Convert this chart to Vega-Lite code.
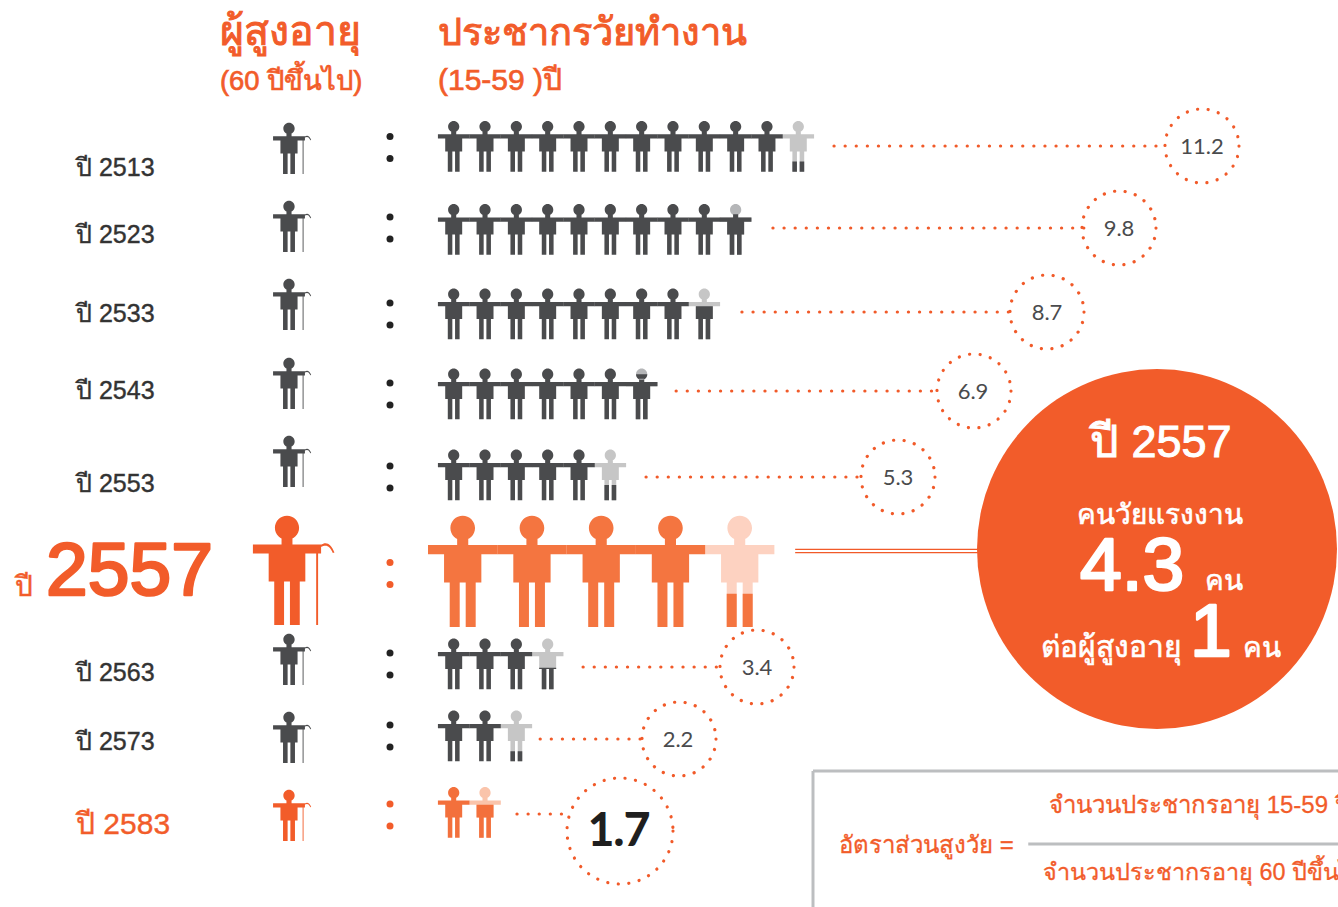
{
"$schema":"https://vega.github.io/schema/vega-lite/v6.json",
"usermeta":{"embedOptions":{"actions":false}},
"width":1338,"height":907,"autosize":"none","padding":0,
"background":"#ffffff",
"config":{"view":{"stroke":null}},
"datasets":{
"workers":[
{"year":2513,"seat":1,"share":1},{"year":2513,"seat":2,"share":1},{"year":2513,"seat":3,"share":1},{"year":2513,"seat":4,"share":1},{"year":2513,"seat":5,"share":1},{"year":2513,"seat":6,"share":1},{"year":2513,"seat":7,"share":1},{"year":2513,"seat":8,"share":1},{"year":2513,"seat":9,"share":1},{"year":2513,"seat":10,"share":1},{"year":2513,"seat":11,"share":1},{"year":2513,"seat":12,"share":0.2},
{"year":2523,"seat":1,"share":1},{"year":2523,"seat":2,"share":1},{"year":2523,"seat":3,"share":1},{"year":2523,"seat":4,"share":1},{"year":2523,"seat":5,"share":1},{"year":2523,"seat":6,"share":1},{"year":2523,"seat":7,"share":1},{"year":2523,"seat":8,"share":1},{"year":2523,"seat":9,"share":1},{"year":2523,"seat":10,"share":0.8},
{"year":2533,"seat":1,"share":1},{"year":2533,"seat":2,"share":1},{"year":2533,"seat":3,"share":1},{"year":2533,"seat":4,"share":1},{"year":2533,"seat":5,"share":1},{"year":2533,"seat":6,"share":1},{"year":2533,"seat":7,"share":1},{"year":2533,"seat":8,"share":1},{"year":2533,"seat":9,"share":0.7},
{"year":2543,"seat":1,"share":1},{"year":2543,"seat":2,"share":1},{"year":2543,"seat":3,"share":1},{"year":2543,"seat":4,"share":1},{"year":2543,"seat":5,"share":1},{"year":2543,"seat":6,"share":1},{"year":2543,"seat":7,"share":0.9},
{"year":2553,"seat":1,"share":1},{"year":2553,"seat":2,"share":1},{"year":2553,"seat":3,"share":1},{"year":2553,"seat":4,"share":1},{"year":2553,"seat":5,"share":1},{"year":2553,"seat":6,"share":0.3},
{"year":2563,"seat":1,"share":1},{"year":2563,"seat":2,"share":1},{"year":2563,"seat":3,"share":1},{"year":2563,"seat":4,"share":0.4},
{"year":2573,"seat":1,"share":1},{"year":2573,"seat":2,"share":1},{"year":2573,"seat":3,"share":0.2},
{"year":2583,"seat":1,"share":1},{"year":2583,"seat":2,"share":0.7}
],
"focus":[{"year":2557,"seat":1,"share":1},{"year":2557,"seat":2,"share":1},{"year":2557,"seat":3,"share":1},{"year":2557,"seat":4,"share":1},{"year":2557,"seat":5,"share":0.3}],
"years":[{"year":2513,"label":"ปี 2513"},{"year":2523,"label":"ปี 2523"},{"year":2533,"label":"ปี 2533"},{"year":2543,"label":"ปี 2543"},{"year":2553,"label":"ปี 2553"},{"year":2557,"label":""},{"year":2563,"label":"ปี 2563"},{"year":2573,"label":"ปี 2573"},{"year":2583,"label":"ปี 2583"}],
"ratios":[{"year":2513,"ratio":11.2},{"year":2523,"ratio":9.8},{"year":2533,"ratio":8.7},{"year":2543,"ratio":6.9},{"year":2553,"ratio":5.3},{"year":2563,"ratio":3.4},{"year":2573,"ratio":2.2},{"year":2583,"ratio":1.7}],
"leaders":[{"year":2513,"from_seat":13.14,"to_seat":23.73},{"year":2523,"from_seat":11.19,"to_seat":21.15},{"year":2533,"from_seat":10.2,"to_seat":18.76},{"year":2543,"from_seat":8.1,"to_seat":16.46},{"year":2553,"from_seat":7.14,"to_seat":14.03},{"year":2563,"from_seat":5.13,"to_seat":9.56},{"year":2573,"from_seat":3.76,"to_seat":7.04},{"year":2583,"from_seat":3.02,"to_seat":4.65}],
"texts":[{"n":1,"text":"ผู้สูงอายุ"},{"n":2,"text":"(60 ปีขึ้นไป)"},{"n":3,"text":"ประชากรวัยทำงาน"},{"n":4,"text":"(15-59 )ปี"},{"n":5,"text":"ปี"},{"n":6,"text":"ปี 2557"},{"n":7,"text":"คนวัยแรงงาน"},{"n":8,"text":"คน"},{"n":9,"text":"ต่อผู้สูงอายุ"},{"n":10,"text":"คน"},{"n":11,"text":"อัตราส่วนสูงวัย ="},{"n":12,"text":"จำนวนประชากรอายุ 15-59 ปี"},{"n":13,"text":"จำนวนประชากรอายุ 60 ปีขึ้นไป"}],
"bigtexts":[{"n":1,"text":"2557"},{"n":2,"text":"4.3"},{"n":3,"text":"1"}]
},
"layer":[
{"data":{"name":"leaders"},"mark":{"type":"rule","stroke":"#f15a29","strokeWidth":3.2,"strokeCap":"round","strokeDash":[0.1,11]},
"encoding":{"x":{"field":"from_seat","type":"quantitative","axis":null,"scale":{"domain":[1,12],"range":[453.7,798.3],"zero":false,"nice":false}},"x2":{"field":"to_seat"},
"y":{"field":"year","type":"quantitative","axis":null,"scale":{"domain":[2513,2523,2533,2543,2553,2563,2573,2583],"range":[146,228,312,391,477,667,739,814],"zero":false,"nice":false}}}},
{"data":{"values":[{"year":2557,"from_seat":11.9,"to_seat":17.73}]},"mark":{"type":"rule","stroke":"#f15a29","strokeWidth":1.4,"yOffset":-1.6},
"encoding":{"x":{"field":"from_seat","type":"quantitative","axis":null,"scale":{"domain":[1,12],"range":[453.7,798.3],"zero":false,"nice":false}},"x2":{"field":"to_seat"},
"y":{"field":"year","type":"quantitative","axis":null,"scale":{"domain":[2557,2558],"range":[551,552],"zero":false,"nice":false}}}},
{"data":{"values":[{"year":2557,"from_seat":11.9,"to_seat":17.73}]},"mark":{"type":"rule","stroke":"#f15a29","strokeWidth":1.4,"yOffset":1.6},
"encoding":{"x":{"field":"from_seat","type":"quantitative","axis":null,"scale":{"domain":[1,12],"range":[453.7,798.3],"zero":false,"nice":false}},"x2":{"field":"to_seat"},
"y":{"field":"year","type":"quantitative","axis":null,"scale":{"domain":[2557,2558],"range":[551,552],"zero":false,"nice":false}}}},
{"data":{"values":[{"year":2557,"ratio":4.3}]},"mark":{"type":"point","filled":true,"shape":"circle","fill":"#f25c2a","opacity":1,"size":129600},
"encoding":{"x":{"field":"ratio","type":"quantitative","axis":null,"scale":{"domain":[4.3,5],"range":[1157,1158],"zero":false,"nice":false}},
"y":{"field":"year","type":"quantitative","axis":null,"scale":{"domain":[2557,2558],"range":[549,550],"zero":false,"nice":false}}}},
{"data":{"name":"years"},"mark":{"type":"point","filled":true,"shape":"M-0.222 -0.784A0.222 0.222 0 1 1 0.222 -0.784A0.222 0.222 0 1 1 -0.222 -0.784ZM-0.1 -0.6L0.1 -0.6L0.1 -0.477L0.625 -0.477L0.625 -0.31L0.336 -0.31L0.336 0.2L0.234 0.2L0.234 1L0.054 1L0.054 0.2L-0.054 0.2L-0.054 1L-0.234 1L-0.234 0.2L-0.336 0.2L-0.336 -0.31L-0.625 -0.31L-0.625 -0.477L-0.1 -0.477ZM0.535 -0.31L0.57 -0.31L0.57 1L0.535 1ZM0.62 -0.47C0.72 -0.53 0.8 -0.5 0.87 -0.33L0.84 -0.32C0.78 -0.46 0.72 -0.48 0.62 -0.43Z","opacity":1},
"encoding":{"x":{"field":"year","type":"quantitative","axis":null,"scale":{"domain":[2513,2553,2557,2563,2583],"range":[289,289,287,289,289],"zero":false,"nice":false}},
"y":{"field":"year","type":"quantitative","axis":null,"scale":{"domain":[2513,2523,2533,2543,2553,2557,2563,2573,2583],"range":[148.5,226.5,304.5,383.5,461.5,570.5,659.5,737.5,815.5],"zero":false,"nice":false}},
"size":{"field":"year","type":"quantitative","legend":null,"scale":{"domain":[2513,2553,2557,2563,2583],"range":[2600,2600,11900,2600,2600],"zero":false,"nice":false}},
"color":{"field":"year","type":"ordinal","legend":null,"scale":{"domain":[2513,2523,2533,2543,2553,2557,2563,2573,2583],"range":["#4a4b4d","#4a4b4d","#4a4b4d","#4a4b4d","#4a4b4d","#f25c2a","#4a4b4d","#4a4b4d","#f25c2a"]}}}},
{"data":{"name":"years"},"mark":{"type":"point","filled":true,"shape":"circle","size":49,"opacity":1,"yOffset":-11},
"encoding":{"x":{"field":"year","type":"quantitative","axis":null,"scale":{"domain":[2513,2583],"range":[390,390],"zero":false,"nice":false}},
"y":{"field":"year","type":"quantitative","axis":null,"scale":{"domain":[2513,2523,2533,2543,2553,2557,2563,2573,2583],"range":[147.5,228,314,394,477,573.5,664,736,815],"zero":false,"nice":false}},
"color":{"field":"year","type":"ordinal","legend":null,"scale":{"domain":[2513,2523,2533,2543,2553,2557,2563,2573,2583],"range":["#222222","#222222","#222222","#222222","#222222","#f25c2a","#222222","#222222","#f25c2a"]}}}},
{"data":{"name":"years"},"mark":{"type":"point","filled":true,"shape":"circle","size":49,"opacity":1,"yOffset":11},
"encoding":{"x":{"field":"year","type":"quantitative","axis":null,"scale":{"domain":[2513,2583],"range":[390,390],"zero":false,"nice":false}},
"y":{"field":"year","type":"quantitative","axis":null,"scale":{"domain":[2513,2523,2533,2543,2553,2557,2563,2573,2583],"range":[147.5,228,314,394,477,573.5,664,736,815],"zero":false,"nice":false}},
"color":{"field":"year","type":"ordinal","legend":null,"scale":{"domain":[2513,2523,2533,2543,2553,2557,2563,2573,2583],"range":["#222222","#222222","#222222","#222222","#222222","#f25c2a","#222222","#222222","#f25c2a"]}}}},
{"data":{"name":"workers"},"transform":[{"filter":"datum.share<1"}],"mark":{"type":"point","filled":true,"opacity":1,"size":2550,"shape":"M-0.222 -0.784A0.222 0.222 0 1 1 0.222 -0.784A0.222 0.222 0 1 1 -0.222 -0.784ZM-0.1 -0.6L0.1 -0.6L0.1 -0.477L0.625 -0.477L0.625 -0.31L0.336 -0.31L0.336 0.2L0.234 0.2L0.234 1L0.054 1L0.054 0.2L-0.054 0.2L-0.054 1L-0.234 1L-0.234 0.2L-0.336 0.2L-0.336 -0.31L-0.625 -0.31L-0.625 -0.477L-0.1 -0.477Z"},
"encoding":{"x":{"field":"seat","type":"quantitative","axis":null,"scale":{"domain":[1,12],"range":[453.7,798.3],"zero":false,"nice":false}},
"y":{"field":"year","type":"quantitative","axis":null,"scale":{"domain":[2513,2523,2533,2543,2553,2563,2573,2583],"range":[146.4,229.5,314,394,475,664,736,812.5],"zero":false,"nice":false}},
"color":{"field":"year","type":"ordinal","legend":null,"scale":{"domain":[2513,2523,2533,2543,2553,2563,2573,2583],"range":["#c6c6c6","#b5b6b8","#c6c6c6","#b5b6b8","#c6c6c6","#c6c6c6","#c6c6c6","#fac4ab"]}}}},
{"data":{"name":"workers"},"mark":{"type":"point","filled":true,"opacity":1,"size":2550},
"encoding":{"x":{"field":"seat","type":"quantitative","axis":null,"scale":{"domain":[1,12],"range":[453.7,798.3],"zero":false,"nice":false}},
"y":{"field":"year","type":"quantitative","axis":null,"scale":{"domain":[2513,2523,2533,2543,2553,2563,2573,2583],"range":[146.4,229.5,314,394,475,664,736,812.5],"zero":false,"nice":false}},
"color":{"field":"year","type":"ordinal","legend":null,"scale":{"domain":[2513,2523,2533,2543,2553,2563,2573,2583],"range":["#4a4b4d","#4a4b4d","#4a4b4d","#4a4b4d","#4a4b4d","#4a4b4d","#4a4b4d","#f3703c"]}},
"shape":{"field":"share","type":"nominal","legend":null,"scale":{"domain":[1,0.9,0.8,0.7,0.4,0.3,0.2],"range":[
"M-0.222 -0.784A0.222 0.222 0 1 1 0.222 -0.784A0.222 0.222 0 1 1 -0.222 -0.784ZM-0.1 -0.6L0.1 -0.6L0.1 -0.477L0.625 -0.477L0.625 -0.31L0.336 -0.31L0.336 0.2L0.234 0.2L0.234 1L0.054 1L0.054 0.2L-0.054 0.2L-0.054 1L-0.234 1L-0.234 0.2L-0.336 0.2L-0.336 -0.31L-0.625 -0.31L-0.625 -0.477L-0.1 -0.477Z",
"M-0.222 -0.784A0.222 0.222 0 0 0 0.222 -0.784ZM-0.1 -0.6L0.1 -0.6L0.1 -0.477L0.625 -0.477L0.625 -0.31L0.336 -0.31L0.336 0.2L0.234 0.2L0.234 1L0.054 1L0.054 0.2L-0.054 0.2L-0.054 1L-0.234 1L-0.234 0.2L-0.336 0.2L-0.336 -0.31L-0.625 -0.31L-0.625 -0.477L-0.1 -0.477Z",
"M-0.1 -0.6L0.1 -0.6L0.1 -0.477L0.625 -0.477L0.625 -0.31L0.336 -0.31L0.336 0.2L0.234 0.2L0.234 1L0.054 1L0.054 0.2L-0.054 0.2L-0.054 1L-0.234 1L-0.234 0.2L-0.336 0.2L-0.336 -0.31L-0.625 -0.31L-0.625 -0.477L-0.1 -0.477Z",
"M-0.336 -0.31L0.336 -0.31L0.336 0.2L0.234 0.2L0.234 1L0.054 1L0.054 0.2L-0.054 0.2L-0.054 1L-0.234 1L-0.234 0.2L-0.336 0.2Z",
"M-0.336 0.15L0.336 0.15L0.336 0.2L0.234 0.2L0.234 1L0.054 1L0.054 0.2L-0.054 0.2L-0.054 1L-0.234 1L-0.234 0.2L-0.336 0.2Z",
"M-0.234 0.4L-0.054 0.4L-0.054 1L-0.234 1ZM0.054 0.4L0.234 0.4L0.234 1L0.054 1Z",
"M-0.234 0.6L-0.054 0.6L-0.054 1L-0.234 1ZM0.054 0.6L0.234 0.6L0.234 1L0.054 1Z"]}}}},
{"data":{"name":"focus"},"transform":[{"filter":"datum.share<1"}],"mark":{"type":"point","filled":true,"opacity":1,"size":12321,"fill":"#fdd2c1","shape":"M-0.222 -0.784A0.222 0.222 0 1 1 0.222 -0.784A0.222 0.222 0 1 1 -0.222 -0.784ZM-0.1 -0.6L0.1 -0.6L0.1 -0.477L0.625 -0.477L0.625 -0.31L0.336 -0.31L0.336 0.2L0.234 0.2L0.234 1L0.054 1L0.054 0.2L-0.054 0.2L-0.054 1L-0.234 1L-0.234 0.2L-0.336 0.2L-0.336 -0.31L-0.625 -0.31L-0.625 -0.477L-0.1 -0.477Z"},
"encoding":{"x":{"field":"seat","type":"quantitative","axis":null,"scale":{"domain":[1,5],"range":[462.7,739.7],"zero":false,"nice":false}},
"y":{"field":"year","type":"quantitative","axis":null,"scale":{"domain":[2557,2558],"range":[571.5,572.5],"zero":false,"nice":false}}}},
{"data":{"name":"focus"},"mark":{"type":"point","filled":true,"opacity":1,"size":12321,"fill":"#f47540"},
"encoding":{"x":{"field":"seat","type":"quantitative","axis":null,"scale":{"domain":[1,5],"range":[462.7,739.7],"zero":false,"nice":false}},
"y":{"field":"year","type":"quantitative","axis":null,"scale":{"domain":[2557,2558],"range":[571.5,572.5],"zero":false,"nice":false}},
"shape":{"field":"share","type":"nominal","legend":null,"scale":{"domain":[1,0.3],"range":[
"M-0.222 -0.784A0.222 0.222 0 1 1 0.222 -0.784A0.222 0.222 0 1 1 -0.222 -0.784ZM-0.1 -0.6L0.1 -0.6L0.1 -0.477L0.625 -0.477L0.625 -0.31L0.336 -0.31L0.336 0.2L0.234 0.2L0.234 1L0.054 1L0.054 0.2L-0.054 0.2L-0.054 1L-0.234 1L-0.234 0.2L-0.336 0.2L-0.336 -0.31L-0.625 -0.31L-0.625 -0.477L-0.1 -0.477Z",
"M-0.234 0.4L-0.054 0.4L-0.054 1L-0.234 1ZM0.054 0.4L0.234 0.4L0.234 1L0.054 1Z"]}}}},
{"data":{"name":"ratios"},"mark":{"type":"point","filled":false,"shape":"circle","stroke":"#f15a29","strokeWidth":3.2,"strokeCap":"round","strokeDash":[0.1,10.5],"opacity":1},
"encoding":{"x":{"field":"ratio","type":"quantitative","axis":null,"scale":{"domain":[1.7,2.2,3.4,5.3,6.9,8.7,9.8,11.2],"range":[620,679,757,898,974,1047,1119,1202],"zero":false,"nice":false}},
"y":{"field":"year","type":"quantitative","axis":null,"scale":{"domain":[2513,2523,2533,2543,2553,2563,2573,2583],"range":[146,228,312,391,477,667,739,831],"zero":false,"nice":false}},
"size":{"field":"ratio","type":"quantitative","legend":null,"scale":{"domain":[1.7,2.2,11.2],"range":[11236,5476,5476],"zero":false,"nice":false}}}},
{"data":{"name":"ratios"},"mark":{"type":"text","align":"center","baseline":"middle","font":"Lato","dy":1},
"encoding":{"text":{"field":"ratio","type":"quantitative","format":".1f"},
"x":{"field":"ratio","type":"quantitative","axis":null,"scale":{"domain":[1.7,2.2,3.4,5.3,6.9,8.7,9.8,11.2],"range":[619,678,757,898,973,1047,1119,1202],"zero":false,"nice":false}},
"y":{"field":"year","type":"quantitative","axis":null,"scale":{"domain":[2513,2523,2533,2543,2553,2563,2573,2583],"range":[146,228,312,391,477,667,739,831],"zero":false,"nice":false}},
"size":{"field":"ratio","type":"quantitative","legend":null,"scale":{"domain":[1.7,2.2,11.2],"range":[44,22,22],"zero":false,"nice":false}},
"stroke":{"field":"ratio","type":"quantitative","legend":null,"scale":{"domain":[1.7,2.2,11.2],"range":["#1f1f1f","#4a4b4d","#4a4b4d"]}},
"strokeWidth":{"field":"ratio","type":"quantitative","legend":null,"scale":{"domain":[1.7,2.2,11.2],"range":[2,0,0],"zero":false,"nice":false}},
"color":{"field":"ratio","type":"quantitative","legend":null,"scale":{"domain":[1.7,2.2,11.2],"range":["#1f1f1f","#4a4b4d","#4a4b4d"]}}}},
{"data":{"name":"years"},"transform":[{"filter":"datum.label!==''"}],"mark":{"type":"text","align":"left","baseline":"alphabetic","font":"Liberation Sans","fontWeight":"normal","strokeWidth":0.4},
"encoding":{"text":{"field":"label"},
"x":{"field":"year","type":"quantitative","axis":null,"scale":{"domain":[2513,2583],"range":[76,76],"zero":false,"nice":false}},
"y":{"field":"year","type":"quantitative","axis":null,"scale":{"domain":[2513,2523,2533,2543,2553,2563,2573,2583],"range":[176,243,322,399,492,681,750,834],"zero":false,"nice":false}},
"size":{"field":"year","type":"quantitative","legend":null,"scale":{"domain":[2513,2573,2583],"range":[25,25,30],"zero":false,"nice":false}},
"stroke":{"field":"year","type":"ordinal","legend":null,"scale":{"domain":[2513,2523,2533,2543,2553,2563,2573,2583],"range":["#333333","#333333","#333333","#333333","#333333","#333333","#333333","#f25c2a"]}},
"color":{"field":"year","type":"ordinal","legend":null,"scale":{"domain":[2513,2523,2533,2543,2553,2563,2573,2583],"range":["#333333","#333333","#333333","#333333","#333333","#333333","#333333","#f25c2a"]}}}},
{"data":{"name":"texts"},"mark":{"type":"text","align":"left","baseline":"alphabetic","font":"Liberation Sans"},
"encoding":{"text":{"field":"text"},
"x":{"field":"n","type":"quantitative","axis":null,"scale":{"domain":[1,2,3,4,5,6,7,8,9,10,11,12,13],"range":[220,220,438,438,15,1090,1077,1205,1041,1243,839,1049,1043],"zero":false,"nice":false}},
"y":{"field":"n","type":"quantitative","axis":null,"scale":{"domain":[1,2,3,4,5,6,7,8,9,10,11,12,13],"range":[45,90,45,90,596,457,524,590,657,657,853,813,880],"zero":false,"nice":false}},
"size":{"field":"n","type":"quantitative","legend":null,"scale":{"domain":[1,2,3,4,5,6,7,8,9,10,11,12,13],"range":[41,27.4,38,30,28,45,28,28,30,28,24,24,23.4],"zero":false,"nice":false}},
"strokeWidth":{"field":"n","type":"quantitative","legend":null,"scale":{"domain":[1,2,3,4,5,6,7,8,9,10,11,12,13],"range":[1,0.7,1,0.7,0.5,1,0.6,0.6,0.6,0.6,0.3,0.3,0.3],"zero":false,"nice":false}},
"stroke":{"field":"n","type":"ordinal","legend":null,"scale":{"domain":[1,2,3,4,5,6,7,8,9,10,11,12,13],"range":["#f25c2a","#f25c2a","#f25c2a","#f25c2a","#f25c2a","#ffffff","#ffffff","#ffffff","#ffffff","#ffffff","#f25c2a","#f25c2a","#f25c2a"]}},
"color":{"field":"n","type":"ordinal","legend":null,"scale":{"domain":[1,2,3,4,5,6,7,8,9,10,11,12,13],"range":["#f25c2a","#f25c2a","#f25c2a","#f25c2a","#f25c2a","#ffffff","#ffffff","#ffffff","#ffffff","#ffffff","#f25c2a","#f25c2a","#f25c2a"]}}}},
{"data":{"name":"bigtexts"},"mark":{"type":"text","align":"left","baseline":"alphabetic","font":"Liberation Sans","fontWeight":"normal","strokeWidth":2.6,"strokeJoin":"round"},
"encoding":{"text":{"field":"text"},
"x":{"field":"n","type":"quantitative","axis":null,"scale":{"domain":[1,2,3],"range":[46,1080,1190],"zero":false,"nice":false}},
"y":{"field":"n","type":"quantitative","axis":null,"scale":{"domain":[1,2,3],"range":[595,590,656],"zero":false,"nice":false}},
"size":{"value":75},
"stroke":{"field":"n","type":"ordinal","legend":null,"scale":{"domain":[1,2,3],"range":["#f25c2a","#ffffff","#ffffff"]}},
"color":{"field":"n","type":"ordinal","legend":null,"scale":{"domain":[1,2,3],"range":["#f25c2a","#ffffff","#ffffff"]}}}},
{"data":{"values":[{"part":"frame top","from":0,"to":1,"at":0},{"part":"fraction bar","from":0.41,"to":1,"at":0.537}]},"mark":{"type":"rule","stroke":"#bcbec0","strokeWidth":3},
"encoding":{"x":{"field":"from","type":"quantitative","axis":null,"scale":{"domain":[0,1],"range":[813,1338],"zero":false,"nice":false}},"x2":{"field":"to"},
"y":{"field":"at","type":"quantitative","axis":null,"scale":{"domain":[0,1],"range":[771,907],"zero":false,"nice":false}}}},
{"data":{"values":[{"part":"frame left","from":0,"to":1,"at":0}]},"mark":{"type":"rule","stroke":"#bcbec0","strokeWidth":3},
"encoding":{"y":{"field":"from","type":"quantitative","axis":null,"scale":{"domain":[0,1],"range":[771,907],"zero":false,"nice":false}},"y2":{"field":"to"},
"x":{"field":"at","type":"quantitative","axis":null,"scale":{"domain":[0,1],"range":[813,1338],"zero":false,"nice":false}}}}
],
"resolve":{"scale":{"x":"independent","y":"independent","color":"independent","size":"independent","shape":"independent","stroke":"independent","strokeWidth":"independent"}}
}
